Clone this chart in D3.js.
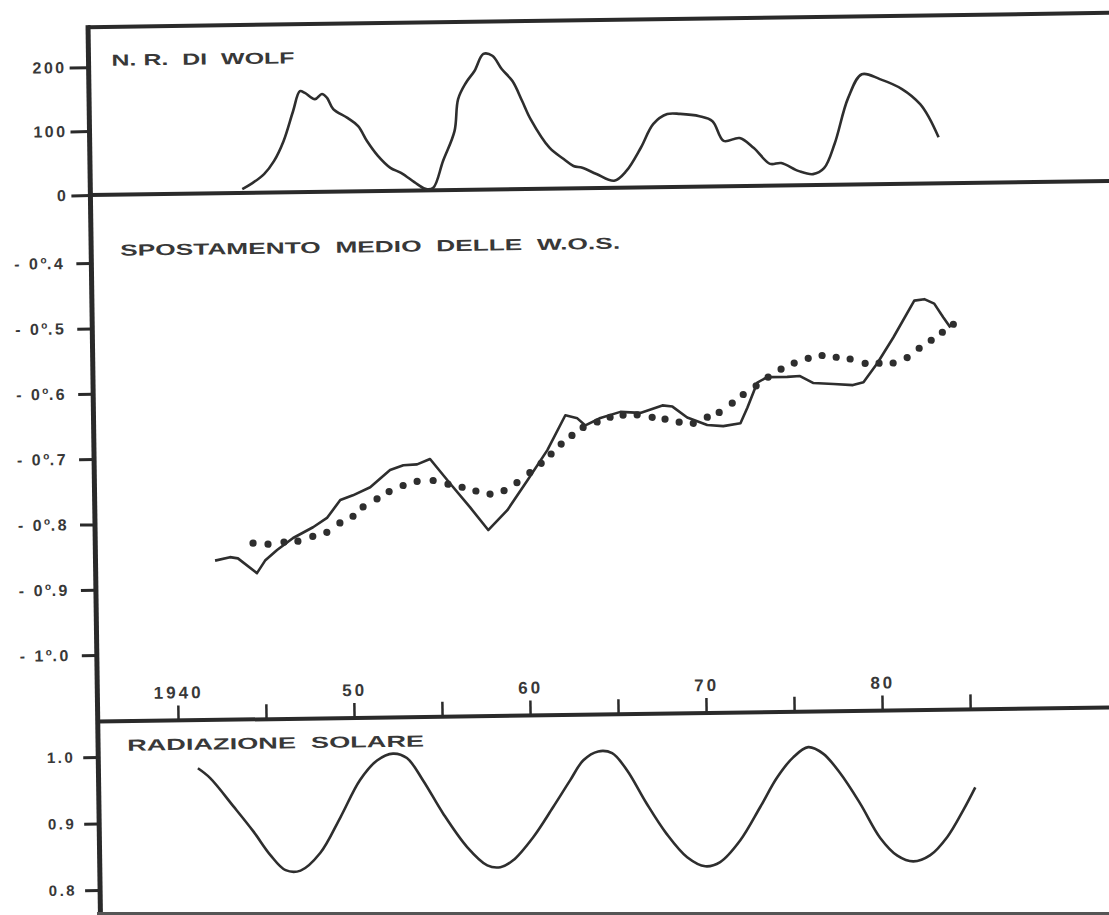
<!DOCTYPE html>
<html>
  <head>
    <title>Wolf, W.O.S., radiazione solare</title>
    <script src="https://d3js.org/d3.v7.min.js"></script>
    <style>
      body { margin: 0; background: #fff; }
      text { font-family: "Liberation Sans", Arial, sans-serif; font-weight: bold; fill: #383838; }
      .axis .domain { display: none; }
      .axis .tick line { stroke: #2a2a2a; stroke-width: 3px; }
      .axis .tick text { font-size: 16px; letter-spacing: 2.5px; fill: #383838; }
      .frame { stroke: #2a2a2a; stroke-width: 4px; }
      .curve { fill: none; stroke: #2e2e2e; stroke-width: 2.6px; stroke-linejoin: round; }
      .title { font-size: 16px; }
    </style>
  </head>
  <body>
    <svg width="1109" height="915"></svg>
    <script>
      // numero relativo di Wolf
      const wolfYear = [1944.07, 1944.58, 1945.32, 1945.89, 1946.45, 1947.02, 1947.42, 1947.7, 1948.27, 1948.67,
        1948.95, 1949.3, 1950.1, 1950.7, 1951.2, 1951.8, 1952.5, 1953.1, 1954.01, 1954.52, 1954.92, 1955.5,
        1956.17, 1956.4, 1956.85, 1957.36, 1957.87, 1958.38, 1958.9, 1959.5, 1960.03, 1960.5, 1961.55, 1962.35,
        1962.9, 1963.4, 1964.2, 1965.2, 1965.9, 1966.74, 1967.47, 1968.27, 1969.0, 1970.1, 1970.83, 1971.45,
        1972.36, 1973.16, 1974.07, 1974.7, 1975.7, 1976.5, 1977.13, 1977.75, 1978.55, 1979.35, 1980.37,
        1981.62, 1982.64, 1983.15, 1983.66];
      const wolfNum = [6, 14, 29, 49, 80, 127, 158, 155, 145, 153,
        147, 129, 115, 102, 78, 55, 36, 28, 10, 2, 4, 46,
        92, 142, 167, 186, 212, 209, 188, 169, 138, 109, 64, 46,
        35, 32, 22, 11, 26, 62, 99, 114, 114, 110, 102, 71,
        75, 59, 34, 35, 22, 17, 26, 64, 135, 172, 164,
        148, 124, 102, 72];

      // spostamento medio delle W.O.S. (linea continua)
      const wosYear = [1942.23, 1943.08, 1943.53, 1944.6, 1945.07, 1945.76, 1946.68, 1947.82, 1948.62, 1949.39,
        1950.11, 1951.1, 1952.24, 1953.0, 1953.78, 1954.52, 1955.64, 1956.76, 1957.77, 1958.87, 1960.03,
        1961.19, 1962.24, 1962.92, 1963.37, 1964.23, 1965.37, 1966.5, 1967.76, 1968.33, 1969.16, 1970.29,
        1971.2, 1972.18, 1972.59, 1973.17, 1973.73, 1974.87, 1975.6, 1976.36, 1977.5, 1978.6, 1979.2,
        1980.0, 1980.93, 1982.15, 1982.72, 1983.28, 1983.78, 1984.18];
      const wosShift = [-0.858, -0.853, -0.855, -0.878, -0.859, -0.843, -0.825, -0.809, -0.795, -0.768,
        -0.761, -0.749, -0.723, -0.716, -0.715, -0.707, -0.745, -0.782, -0.817, -0.787, -0.742,
        -0.696, -0.643, -0.648, -0.659, -0.648, -0.639, -0.641, -0.630, -0.632, -0.649, -0.661,
        -0.663, -0.659, -0.635, -0.597, -0.589, -0.589, -0.588, -0.599, -0.601, -0.603, -0.599,
        -0.570, -0.531, -0.475, -0.473, -0.480, -0.501, -0.517];

      // curva punteggiata
      const dotYear = [1944.4, 1945.25, 1946.16, 1946.95, 1947.8, 1948.6, 1949.35, 1950.1, 1950.68, 1951.48,
        1952.17, 1952.97, 1953.77, 1954.68, 1955.52, 1956.32, 1957.1, 1957.9, 1958.7, 1959.44, 1960.18,
        1960.83, 1961.4, 1961.98, 1962.6, 1963.24, 1964.04, 1964.78, 1965.52, 1966.32, 1967.17, 1967.9,
        1968.7, 1969.5, 1970.3, 1970.98, 1971.73, 1972.36, 1973.1, 1973.79, 1974.53, 1975.28, 1976.08,
        1976.87, 1977.67, 1978.46, 1979.31, 1980.1, 1980.9, 1981.7, 1982.39, 1983.08, 1983.72, 1984.35];
      const dotShift = [-0.832, -0.834, -0.831, -0.830, -0.823, -0.817, -0.803, -0.793, -0.779, -0.767,
        -0.756, -0.747, -0.741, -0.740, -0.746, -0.751, -0.757, -0.762, -0.757, -0.745, -0.730,
        -0.716, -0.702, -0.687, -0.674, -0.662, -0.654, -0.647, -0.644, -0.644, -0.648, -0.651,
        -0.656, -0.658, -0.649, -0.642, -0.628, -0.615, -0.602, -0.589, -0.577, -0.568, -0.561,
        -0.557, -0.560, -0.563, -0.570, -0.570, -0.570, -0.562, -0.548, -0.536, -0.524, -0.512];

      // radiazione solare
      const solarYear = [1941.09, 1941.78, 1943.08, 1944.19, 1945.14, 1945.99, 1946.84, 1947.97, 1949.14, 1950.29,
        1951.27, 1952.18, 1952.97, 1953.87, 1954.98, 1956.32, 1957.45, 1958.19, 1958.92, 1960.07, 1961.23,
        1962.22, 1962.99, 1963.84, 1964.63, 1965.46, 1966.54, 1967.65, 1968.81, 1969.83, 1970.68, 1971.83,
        1973.0, 1973.98, 1974.91, 1975.77, 1976.61, 1977.57, 1978.68, 1979.79, 1980.75, 1981.65, 1982.62,
        1983.6, 1984.53, 1985.23];
      const solarRad = [0.981, 0.966, 0.923, 0.885, 0.849, 0.826, 0.825, 0.851, 0.904, 0.960,
        0.989, 0.999, 0.992, 0.958, 0.908, 0.857, 0.829, 0.826, 0.836, 0.870, 0.915,
        0.955, 0.985, 0.998, 0.995, 0.969, 0.919, 0.873, 0.837, 0.823, 0.829, 0.861,
        0.911, 0.955, 0.985, 1.000, 0.990, 0.960, 0.914, 0.862, 0.835, 0.826, 0.835,
        0.862, 0.902, 0.936];

      const wolfTicks = [0, 100, 200];
      const wosTicks = [-0.4, -0.5, -0.6, -0.7, -0.8, -0.9, -1.0];
      const solarTicks = [0.8, 0.9, 1.0];
      const yearTicks = [1940, 1945, 1950, 1955, 1960, 1965, 1970, 1975, 1980, 1985];
      const yearLabelAt = [1940, 1950, 1960, 1970, 1980];
      const yearLabels = ["1940", "50", "60", "70", "80"];

      const svg = d3.select("svg");
      svg.append("rect").attr("width", 1109).attr("height", 915).attr("fill", "#fff");

      // the scanned page is slightly tilted
      const g = svg.append("g").attr("transform", "rotate(-0.8, 530, 450)");

      const frameL = 94, frameR = 1135, frameTop = 21, axisY = 715.5;

      const x = d3.scaleLinear().domain([1940, 1985]).range([174.3, 966.5]);
      const yTop = d3.scaleLinear().domain([0, 200]).range([189, 61]);
      const yMid = d3.scaleLinear().domain([-1.0, -0.4]).range([649, 257]);
      const yBot = d3.scaleLinear().domain([0.8, 1.0]).range([884, 751]);

      // frame
      [frameTop, yTop(0), axisY].forEach(y => {
        g.append("line").attr("class", "frame")
          .attr("x1", frameL).attr("x2", frameR).attr("y1", y).attr("y2", y);
      });
      g.append("line").attr("class", "frame").style("stroke-width", "5px")
        .attr("x1", frameL).attr("x2", frameL).attr("y1", frameTop - 2).attr("y2", 940);
      svg.append("line").attr("x1", 97).attr("x2", 1109).attr("y1", 913.5).attr("y2", 913.5)
        .attr("stroke", "#555").attr("stroke-width", 3);

      // y axes
      g.append("g").attr("class", "axis")
        .attr("transform", `translate(${frameL},0)`)
        .call(d3.axisLeft(yTop).tickValues(wolfTicks).tickSize(19).tickPadding(3));

      const midAxisG = g.append("g").attr("class", "axis")
        .attr("transform", `translate(${frameL},0)`)
        .call(d3.axisLeft(yMid).tickValues(wosTicks).tickSize(15).tickPadding(11));
      // degrees written the old way: 0°.4
      midAxisG.selectAll(".tick text").each(function(d) {
        const parts = Math.abs(d).toFixed(1).split(".");
        const t = d3.select(this).text(null);
        t.append("tspan").text("- " + parts[0]);
        t.append("tspan").attr("dy", -6).style("font-size", "10px").style("letter-spacing", "0.5px").text("o");
        t.append("tspan").attr("dy", 6).text("." + parts[1]);
      });

      const botAxisG = g.append("g").attr("class", "axis")
        .attr("transform", `translate(${frameL},0)`)
        .call(d3.axisLeft(yBot).tickValues(solarTicks).tickSize(15).tickPadding(8)
          .tickFormat(d3.format(".1f")));
      botAxisG.selectAll(".tick text").style("font-size", "15px");

      // x axis: ticks point up into the middle panel
      const xAxisG = g.append("g").attr("class", "axis")
        .attr("transform", `translate(0,${axisY})`)
        .call(d3.axisTop(x).tickValues(yearTicks).tickSize(15).tickFormat(""));
      xAxisG.selectAll(".tick line").style("stroke-width", "2.5px");

      g.selectAll(".ylab").data(yearLabelAt).enter().append("text")
        .attr("class", "ylab")
        .attr("x", d => x(d) + 1)
        .attr("y", axisY - 22)
        .attr("text-anchor", "middle")
        .style("font-size", "17px")
        .style("letter-spacing", "3px")
        .text((d, i) => yearLabels[i]);

      // titles
      const titles = [
        {t: "N. R.  DI  WOLF", x: 117, y: 60, len: 183},
        {t: "SPOSTAMENTO  MEDIO  DELLE  W.O.S.", x: 123, y: 250, len: 500},
        {t: "RADIAZIONE  SOLARE", x: 123, y: 745, len: 297}
      ];
      g.selectAll(".title").data(titles).enter().append("text")
        .attr("class", "title")
        .attr("x", d => d.x).attr("y", d => d.y)
        .attr("textLength", d => d.len)
        .attr("lengthAdjust", "spacingAndGlyphs")
        .style("white-space", "pre")
        .text(d => d.t);

      // curves
      const wolfLine = d3.line().x(d => x(d[0])).y(d => yTop(d[1])).curve(d3.curveCatmullRom);
      g.append("path").attr("class", "curve")
        .attr("d", wolfLine(d3.zip(wolfYear, wolfNum)));

      const wosLine = d3.line().x(d => x(d[0])).y(d => yMid(d[1]));
      g.append("path").attr("class", "curve")
        .attr("d", wosLine(d3.zip(wosYear, wosShift)));

      g.selectAll(".dot").data(d3.zip(dotYear, dotShift)).enter().append("circle")
        .attr("class", "dot")
        .attr("cx", d => x(d[0]))
        .attr("cy", d => yMid(d[1]))
        .attr("r", 3.6)
        .attr("fill", "#2e2e2e");

      const solarLine = d3.line().x(d => x(d[0])).y(d => yBot(d[1])).curve(d3.curveCatmullRom);
      g.append("path").attr("class", "curve")
        .attr("d", solarLine(d3.zip(solarYear, solarRad)));
    </script>
  </body>
</html>
